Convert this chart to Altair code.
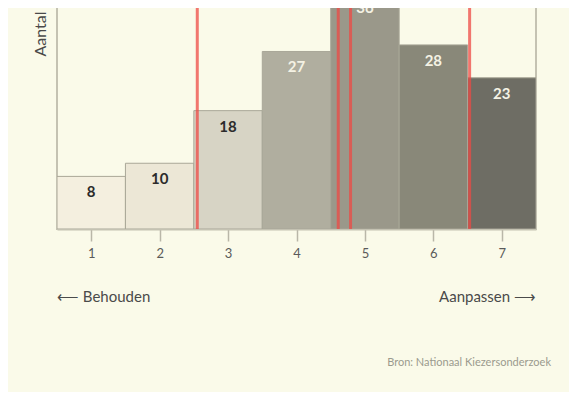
import altair as alt
import pandas as pd

# Data
scores = [1, 2, 3, 4, 5, 6, 7]
counts = [8, 10, 18, 27, 36, 28, 23]
bar_colors = ["#f4efdf", "#ece7d6", "#d7d4c5", "#b0ae9f", "#9a988a", "#898879", "#6e6d64"]
label_colors = ["#2b2b2b", "#2b2b2b", "#2b2b2b", "#f4f2e4", "#f4f2e4", "#f4f2e4", "#f4f2e4"]
red_lines = [2.55, 4.61, 4.79, 6.53]
tick_values = [1, 2, 3, 4, 5, 6, 7]

FONT = "Lato"
BG = "#fafae9"

bars_df = pd.DataFrame({
    "score": scores,
    "count": counts,
    "x0": [s - 0.5 for s in scores],
    "x1": [s + 0.5 for s in scores],
    "color": bar_colors,
    "lcolor": label_colors,
    "label": [str(c) for c in counts],
})
lines_df = pd.DataFrame({"pos": red_lines})

xscale = alt.Scale(domain=[0.5, 7.5], nice=False, zero=False)
yscale = alt.Scale(domain=[0, 40], nice=False)

base = alt.Chart(bars_df)

bars = base.mark_rect(stroke="#a9a798", strokeWidth=1, clip=True).encode(
    x=alt.X("x0:Q", scale=xscale,
            axis=alt.Axis(values=tick_values, format="d", title=None, grid=False,
                          domain=True, domainColor="#c4c2b2", domainWidth=2,
                          tickColor="#b9b7a8", tickSize=12, tickWidth=1.5,
                          labelFont=FONT, labelFontSize=13, labelColor="#5a5a5a",
                          labelPadding=6)),
    x2="x1:Q",
    y=alt.Y("count:Q", scale=yscale,
            axis=alt.Axis(title="Aantal kiezers", labels=False, ticks=False,
                          domain=False, grid=False,
                          titleFont=FONT, titleFontSize=16, titleFontWeight="normal",
                          titleColor="#4a4a4a", titleAngle=270, titleAlign="left",
                          titleBaseline="middle", titleX=-17, titleY=90)),
    y2=alt.datum(0),
    fill=alt.Fill("color:N", scale=None),
)

labels = base.mark_text(font=FONT, fontSize=15, fontWeight="bold",
                        baseline="middle", dy=16, clip=True).encode(
    x=alt.X("score:Q", scale=xscale),
    y=alt.Y("count:Q", scale=yscale),
    text="label:N",
    color=alt.Color("lcolor:N", scale=None),
)

rules = alt.Chart(lines_df).mark_rule(color="#ee4a44", strokeWidth=3, opacity=0.75, clip=True).encode(
    x=alt.X("pos:Q", scale=xscale),
    y=alt.datum(0),
    y2=alt.datum(40),
)

left_note = alt.Chart(pd.DataFrame({"t": ["\u27f5 Behouden"], "x": [0.5]})).mark_text(
    font=FONT, fontSize=15, color="#4a4a4a", align="left", baseline="middle"
).encode(x=alt.X("x:Q", scale=xscale), y=alt.value(331), text="t:N")

right_note = alt.Chart(pd.DataFrame({"t": ["Aanpassen \u27f6"], "x": [7.5]})).mark_text(
    font=FONT, fontSize=15, color="#4a4a4a", align="right", baseline="middle"
).encode(x=alt.X("x:Q", scale=xscale), y=alt.value(331), text="t:N")

source = alt.Chart(pd.DataFrame({"t": ["Bron: Nationaal Kiezersonderzoek"]})).mark_text(
    font=FONT, fontSize=11, color="#9a9a8e", align="right", baseline="middle"
).encode(x=alt.value(494), y=alt.value(397), text="t:N")

chart = alt.layer(bars, rules, labels, left_note, right_note, source).properties(
    width=479,
    height=263,
    background=BG,
    padding={"left": 49, "top": -42, "right": 33, "bottom": 163},
    autosize=alt.AutoSizeParams(type="none"),
).configure_view(stroke="#c4c2b2", strokeWidth=2)

chart.save("out.html", embed_options={"renderer": "svg", "actions": False})
